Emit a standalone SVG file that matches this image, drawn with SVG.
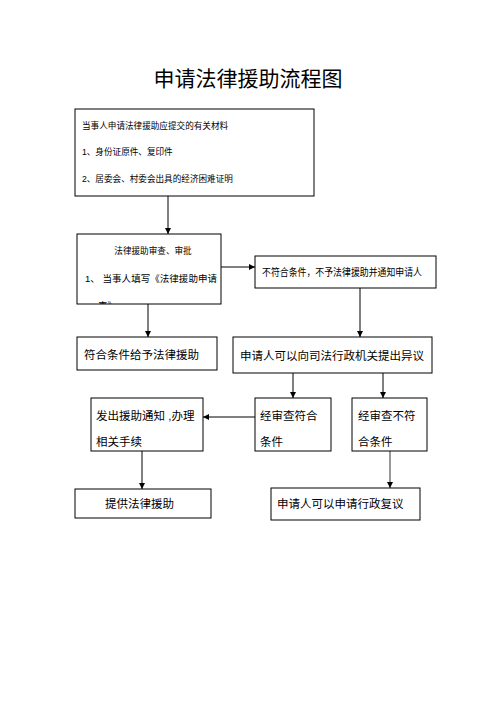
<svg xmlns="http://www.w3.org/2000/svg" width="496" height="702" viewBox="0 0 496 702">
  <style>
    text { font-family: "Liberation Sans", "Noto Sans CJK SC", sans-serif; fill: #000; }
    .box { fill: #fff; stroke: #000; stroke-width: 1; }
    .line { fill: none; stroke: #000; stroke-width: 1; }
    .gray { stroke: #777; stroke-width: 1.5; }
    .s { font-size: 8.6px; }
    .m { font-size: 9.5px; }
    .l { font-size: 11.5px; }
  </style>
  <defs>
    <marker id="arrow" viewBox="0 0 10 10" refX="10" refY="5" markerWidth="6" markerHeight="6" orient="auto" markerUnits="userSpaceOnUse">
      <path d="M0,0 L10,5 L0,10 z" fill="#000"/>
    </marker>
    <clipPath id="clip-review">
      <rect x="77" y="234" width="144" height="70"/>
    </clipPath>
  </defs>

  <rect width="496" height="702" fill="#fff"/>

  <text x="248" y="86" font-size="21" text-anchor="middle">申请法律援助流程图</text>

  <g id="connectors">
    <line class="line" x1="168" y1="196" x2="168" y2="234" marker-end="url(#arrow)"/>
    <line class="line" x1="221" y1="267" x2="255" y2="267" marker-end="url(#arrow)"/>
    <line class="line" x1="148" y1="304" x2="148" y2="337" marker-end="url(#arrow)"/>
    <line class="line" x1="360" y1="288" x2="360" y2="337" marker-end="url(#arrow)"/>
    <line class="line" x1="293" y1="373" x2="293" y2="398" marker-end="url(#arrow)"/>
    <line class="line" x1="383" y1="373" x2="383" y2="398" marker-end="url(#arrow)"/>
    <line class="line" x1="255" y1="417" x2="203" y2="417" marker-end="url(#arrow)"/>
    <line class="line" x1="142" y1="451" x2="142" y2="489" marker-end="url(#arrow)"/>
    <line class="line gray" x1="390" y1="451" x2="390" y2="488" marker-end="url(#arrow)"/>
  </g>

  <g id="materials">
    <rect class="box" x="75" y="109" width="239" height="87"/>
    <text class="s" x="82" y="129">当事人申请法律援助应提交的有关材料</text>
    <text class="s" x="82" y="155">1、身份证原件、复印件</text>
    <text class="s" x="82" y="182">2、居委会、村委会出具的经济困难证明</text>
  </g>

  <g id="review">
    <rect class="box" x="77" y="234" width="144" height="70"/>
    <text class="s" x="153" y="254" text-anchor="middle" font-size="9.5">法律援助审查、审批</text>
    <text class="m" x="85" y="282" textLength="132" lengthAdjust="spacing">1、 当事人填写《法律援助申请</text>
    <text class="m" x="98" y="309" clip-path="url(#clip-review)">表》</text>
  </g>

  <g id="rejected">
    <rect class="box" x="255" y="256" width="181" height="32"/>
    <text x="262" y="276" font-size="10" textLength="160" lengthAdjust="spacingAndGlyphs">不符合条件，不予法律援助并通知申请人</text>
  </g>

  <g id="granted">
    <rect class="box" x="77" y="337" width="140" height="33"/>
    <text class="l" x="84" y="359">符合条件给予法律援助</text>
  </g>

  <g id="objection">
    <rect class="box" x="233" y="337" width="199" height="36"/>
    <text class="l" x="240" y="360">申请人可以向司法行政机关提出异议</text>
  </g>

  <g id="notice">
    <rect class="box" x="91" y="398" width="112" height="53"/>
    <text class="l" x="96" y="420">发出援助通知 ,办理</text>
    <text class="l" x="96" y="446">相关手续</text>
  </g>

  <g id="upheld">
    <rect class="box" x="255" y="398" width="76" height="53"/>
    <text class="l" x="260" y="420">经审查符合</text>
    <text class="l" x="260" y="446">条件</text>
  </g>

  <g id="not-upheld">
    <rect class="box" x="352" y="398" width="75" height="53"/>
    <text class="l" x="358" y="420">经审查不符</text>
    <text class="l" x="358" y="446">合条件</text>
  </g>

  <g id="provide">
    <rect class="box" x="75" y="489" width="136" height="29"/>
    <text class="l" x="105" y="508">提供法律援助</text>
  </g>

  <g id="reconsideration">
    <rect class="box" x="271" y="488" width="149" height="32"/>
    <text class="l" x="277" y="508">申请人可以申请行政复议</text>
  </g>
</svg>
